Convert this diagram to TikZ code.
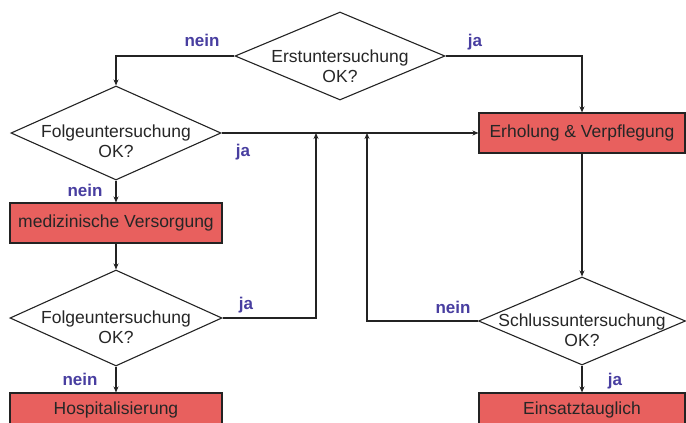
\documentclass[tikz,border=0pt]{standalone}
\usepackage{fontspec}
\setmainfont{Liberation Sans}
\usepackage{xcolor}
\usepackage{tikz}
\usetikzlibrary{shapes.geometric}
\usetikzlibrary{arrows.meta}
\definecolor{boxred}{RGB}{232,96,94}
\definecolor{answerblue}{RGB}{72,62,160}
\definecolor{linegray}{RGB}{35,35,35}

\begin{document}
\begin{tikzpicture}[x=1pt,y=-1pt,
    decision/.style={draw=linegray,line width=1.1pt,fill=white,diamond,inner sep=0pt},
    question/.style={align=center,text=black!85,font=\fontsize{17.5}{20.5}\selectfont},
    action/.style={draw=linegray,line width=1.1pt,fill=boxred,inner sep=0pt,
        minimum height=40pt,text=black!85,font=\fontsize{17.5}{20.5}\selectfont},
    answer/.style={text=answerblue,anchor=base,font=\bfseries\fontsize{17}{20}\selectfont},
    flow/.style={draw=linegray,line width=1.1pt,-{Stealth[length=6pt,width=5pt]}}]
\useasboundingbox (0,0) rectangle (686,423);
\clip (0,0) rectangle (686,423);

% decisions and actions
\node[decision,minimum width=210pt,minimum height=88pt] at (340,56) (erst) {};
\node[question,yshift=-10pt] at (erst) (erst-t) {Erstuntersuchung\\OK?};
\node[decision,minimum width=210pt,minimum height=94pt] at (116,133) (folge1) {};
\node[question,yshift=-8pt] at (folge1) (folge1-t) {Folgeuntersuchung\\OK?};
\node[action,minimum width=206pt] at (582,133) (erhol) {Erholung \& Verpflegung};
\node[action,minimum width=212pt] at (116,223) (med) {medizinische Versorgung};
\node[decision,minimum width=212pt,minimum height=96pt] at (116,318) (folge2) {};
\node[question,yshift=-9pt] at (folge2) (folge2-t) {Folgeuntersuchung\\OK?};
\node[action,minimum width=212pt,minimum height=34pt] at (116,410) (hosp) {Hospitalisierung};
\node[decision,minimum width=207pt,minimum height=88pt] at (582,321) (schluss) {};
\node[question,yshift=-9pt] at (schluss) (schluss-t) {Schlussuntersuchung\\OK?};
\node[action,minimum width=206pt,minimum height=34pt] at (582,410) (einsatz) {Einsatztauglich};

% junctions on the ja line
\coordinate (j1) at (316,133);
\coordinate (j2) at (367,133);

\draw[flow] (erst.west) -| (folge1.north);
\draw[flow] (erst.east) -| (erhol.north);
\draw[flow] (folge1.east) -- (erhol.west);
\draw[flow] (folge1.south) -- (med.north);
\draw[flow] (med.south) -- (folge2.north);
\draw[flow] (folge2.east) -| (j1);
\draw[flow] (folge2.south) -- (hosp.north);
\draw[flow] (erhol.south) -- (schluss.north);
\draw[flow] (schluss.west) -| (j2);
\draw[flow] (schluss.south) -- (einsatz.north);

% answers
\node[answer] at (202,46) (nein1) {nein};
\node[answer] at (475,46) (ja1) {ja};
\node[answer] at (243,156) (ja2) {ja};
\node[answer] at (85,196) (nein2) {nein};
\node[answer] at (246,309) (ja3) {ja};
\node[answer] at (80,385) (nein3) {nein};
\node[answer] at (453,313) (nein4) {nein};
\node[answer] at (615,385) (ja4) {ja};
\end{tikzpicture}
\end{document}
